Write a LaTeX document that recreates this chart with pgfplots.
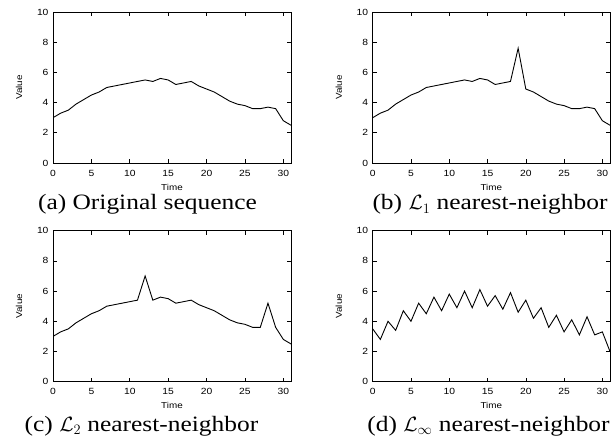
\documentclass[border=0pt]{standalone}
\usepackage{fontspec}
\setmainfont{Liberation Serif}[FakeStretch=1.16]
\newfontfamily\ticksf{Liberation Sans}[FakeStretch=1.15]
\usepackage{pgfplots}
\pgfplotsset{compat=1.18}
\usepackage{pgfplotstable}

\pgfplotstableread{
t a b c d
0 3.0 3.0 3.0 3.5
1 3.3 3.3 3.3 2.8
2 3.5 3.5 3.5 4.0
3 3.9 3.9 3.9 3.4
4 4.2 4.2 4.2 4.7
5 4.5 4.5 4.5 4.0
6 4.7 4.7 4.7 5.2
7 5.0 5.0 5.0 4.5
8 5.1 5.1 5.1 5.6
9 5.2 5.2 5.2 4.7
10 5.3 5.3 5.3 5.8
11 5.4 5.4 5.4 4.9
12 5.5 5.5 7.0 6.0
13 5.4 5.4 5.4 4.9
14 5.6 5.6 5.6 6.1
15 5.5 5.5 5.5 5.0
16 5.2 5.2 5.2 5.7
17 5.3 5.3 5.3 4.8
18 5.4 5.4 5.4 5.9
19 5.1 7.6 5.1 4.6
20 4.9 4.9 4.9 5.4
21 4.7 4.7 4.7 4.2
22 4.4 4.4 4.4 4.9
23 4.1 4.1 4.1 3.6
24 3.9 3.9 3.9 4.4
25 3.8 3.8 3.8 3.3
26 3.6 3.6 3.6 4.1
27 3.6 3.6 3.6 3.1
28 3.7 3.7 5.2 4.3
29 3.6 3.6 3.6 3.1
30 2.8 2.8 2.8 3.3
31 2.5 2.5 2.5 2.0
}\datatable

\pgfplotsset{
  panel/.style={
    scale only axis, width=238bp, height=151bp, anchor=south west,
    xmin=0, xmax=31, ymin=0, ymax=10,
    xtick={0,5,...,30}, ytick={0,2,...,10},
    axis line style={line width=0.8bp, black},
    major tick length=4bp,
    tick style={line width=0.6bp, black},
    /pgf/number format/assume math mode=true,
    tick label style={font=\ticksf\fontsize{9}{11}\selectfont, text=black},
    xticklabel style={anchor=center, yshift=-10bp},
    yticklabel style={anchor=east, xshift=-1bp},
    xlabel={Time}, ylabel={Value},
    label style={font=\ticksf\fontsize{8.6}{10}\selectfont, text=black},
    xlabel style={at={(axis description cs:0.5,-0.159)}, anchor=center},
    ylabel style={at={(axis description cs:-0.143,0.5)}, anchor=center},
  },
  myline/.style={black, line width=0.9bp, no marks},
}

\begin{document}
\begin{tikzpicture}
\path[use as bounding box] (0,0) rectangle (613bp,439bp);
\begin{axis}[panel, at={(53bp,276bp)}]
\addplot[myline] table[x=t, y=a] {\datatable};
\end{axis}
\begin{axis}[panel, at={(372.7bp,276bp)}, width=237.3bp]
\addplot[myline] table[x=t, y=b] {\datatable};
\end{axis}
\begin{axis}[panel, at={(53bp,57.3bp)}]
\addplot[myline] table[x=t, y=c] {\datatable};
\end{axis}
\begin{axis}[panel, at={(372.7bp,57.3bp)}, width=237.3bp]
\addplot[myline] table[x=t, y=d] {\datatable};
\end{axis}
\node[anchor=base, font=\fontsize{22}{26}\selectfont] at (147.5bp,229bp) {(a) Original sequence};
\node[anchor=base, font=\fontsize{22}{26}\selectfont] at (490bp,229bp) {(b) $\mathcal{L}_1$ nearest-neighbor};
\node[anchor=base, font=\fontsize{22}{26}\selectfont] at (141.5bp,8bp) {(c) $\mathcal{L}_2$ nearest-neighbor};
\node[anchor=base, font=\fontsize{22}{26}\selectfont] at (488.5bp,8bp) {(d) $\mathcal{L}_\infty$ nearest-neighbor};
\end{tikzpicture}
\end{document}
